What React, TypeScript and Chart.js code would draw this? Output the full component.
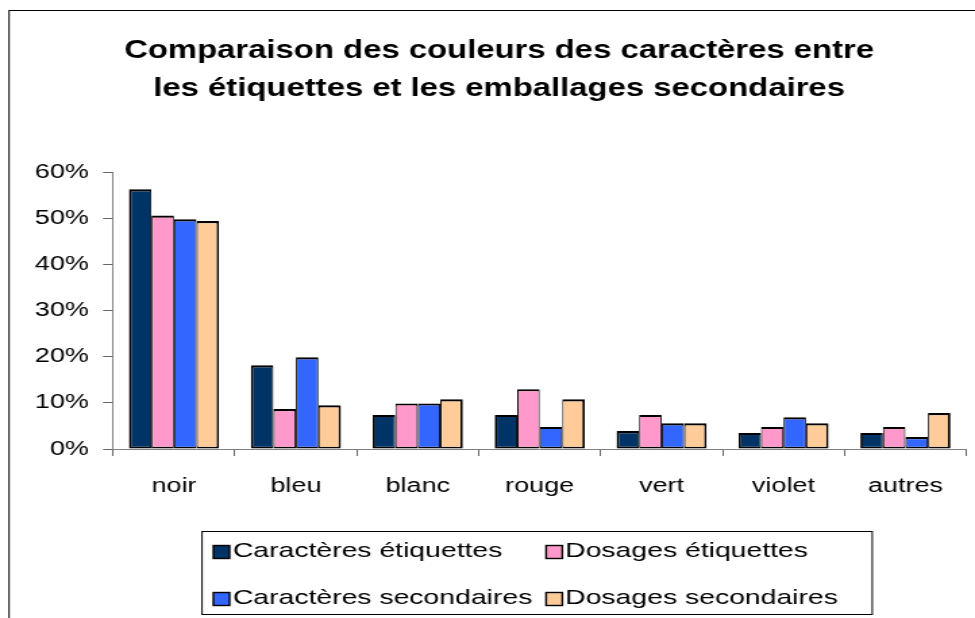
import React, { useEffect, useRef } from "react";
import { Chart, registerables } from "chart.js";

Chart.register(...registerables);

const categories = ["noir", "bleu", "blanc", "rouge", "vert", "violet", "autres"];
const seriesLabels = [
  "Caractères étiquettes",
  "Dosages étiquettes",
  "Caractères secondaires",
  "Dosages secondaires",
];
const caracteresEtiquettes = [56.4, 18.2, 7.4, 7.4, 3.9, 3.5, 3.5];
const dosagesEtiquettes = [50.7, 8.7, 9.9, 13.0, 7.4, 4.8, 4.8];
const caracteresSecondaires = [49.9, 19.9, 9.9, 4.8, 5.6, 6.9, 2.6];
const dosagesSecondaires = [49.5, 9.5, 10.8, 10.8, 5.6, 5.6, 7.8];
const seriesColors = ["#003366", "#FF99CC", "#3366FF", "#FFCC99"];
const titleLines = [
  "Comparaison des couleurs des caractères entre",
  "les étiquettes et les emballages secondaires",
];
const yTickMax = 60;
const yTickStep = 10;

const FONT = "'Liberation Sans', Arial, Helvetica, sans-serif";
// internal canvas is narrower and stretched horizontally by CSS
const INNER_W = 722;
const INNER_H = 618;

const framePlugin = {
  id: "frameAndLegend",
  afterDraw(chart: any) {
    const ctx = chart.ctx;
    ctx.save();
    // outer frame (right/bottom edges fall outside the picture)
    ctx.strokeStyle = "#000";
    ctx.lineWidth = 1;
    ctx.strokeRect(6.7, 10.5, INNER_W + 20, INNER_H + 20);

    // title (slightly condensed horizontally)
    ctx.save();
    const cx = 369.6;
    const sx = 0.935;
    ctx.translate(cx, 0);
    ctx.scale(sx, 1);
    ctx.font = `bold 26px ${FONT}`;
    ctx.fillStyle = "#000";
    ctx.textAlign = "center";
    ctx.textBaseline = "alphabetic";
    const baselines = [57.5, 96];
    titleLines.forEach((t, i) => ctx.fillText(t, 0, baselines[i]));
    ctx.restore();

    // legend box
    const bx = 149.6, by = 531, bw = 496.3, bh = 83;
    ctx.fillStyle = "#fff";
    ctx.fillRect(bx, by, bw, bh);
    ctx.strokeStyle = "#000";
    ctx.lineWidth = 1;
    ctx.strokeRect(bx, by + 0.5, bw, bh);

    const colMarkerX = [158, 404.4];
    const colTextX = [172.4, 418.5];
    const rowY = [552, 599];
    ctx.font = `21px ${FONT}`;
    ctx.textBaseline = "middle";
    ctx.textAlign = "left";
    chart.data.datasets.forEach((ds: any, i: number) => {
      const col = i % 2;
      const row = Math.floor(i / 2);
      const mx = colMarkerX[col];
      const my = rowY[row];
      ctx.fillStyle = ds.backgroundColor;
      ctx.fillRect(mx, my - 6.5, 12, 13);
      ctx.strokeStyle = "#000";
      ctx.lineWidth = 1.4;
      ctx.strokeRect(mx, my - 6.5, 12, 13);
      ctx.fillStyle = "#000";
      ctx.fillText(ds.label, colTextX[col], my - 1);
    });
    ctx.restore();
  },
};

export default function App() {
  const ref = useRef<HTMLCanvasElement | null>(null);

  useEffect(() => {
    if (!ref.current) return;
    const seriesData = [
      caracteresEtiquettes,
      dosagesEtiquettes,
      caracteresSecondaires,
      dosagesSecondaires,
    ];
    const n = seriesData.length;
    const chart = new Chart(ref.current, {
      type: "bar",
      data: {
        labels: categories,
        datasets: seriesData.map((d, i) => ({
          label: seriesLabels[i],
          data: d,
          backgroundColor: seriesColors[i],
          borderColor: "#000",
          borderWidth: {
            top: 2.2,
            bottom: 1.8,
            left: i === 0 ? 1.8 : 1.0,
            right: i === n - 1 ? 1.8 : 1.0,
          },
          borderSkipped: false,
          categoryPercentage: 0.739,
          barPercentage: 1.0,
        })),
      },
      options: {
        responsive: false,
        devicePixelRatio: 1,
        animation: false,
        layout: { padding: { top: 172.7, left: 23.6, right: 6.4, bottom: 102 } },
        plugins: {
          legend: { display: false },
          tooltip: { enabled: false },
          title: { display: false },
        },
        scales: {
          x: {
            grid: {
              offset: true,
              drawOnChartArea: false,
              drawTicks: true,
              tickLength: 7,
              color: "#666",
              lineWidth: 1,
            },
            border: { display: true, color: "#808080", width: 1 },
            ticks: { color: "#000", font: { family: FONT, size: 20 }, padding: 18 },
            afterFit: (s: any) => {
              s.height = 67;
            },
          },
          y: {
            min: 0,
            max: yTickMax,
            grid: {
              drawOnChartArea: false,
              drawTicks: true,
              tickLength: 7.4,
              color: "#666",
              lineWidth: 1,
            },
            border: { display: true, color: "#808080", width: 1 },
            ticks: {
              stepSize: yTickStep,
              color: "#000",
              font: { family: FONT, size: 20 },
              padding: 10.4,
              callback: (v: any) => `${v}%`,
            },
            afterFit: (s: any) => {
              s.width = 60.1;
            },
          },
        },
      },
      plugins: [framePlugin],
    });
    return () => chart.destroy();
  }, []);

  return (
    <div style={{ position: "fixed", left: 0, top: 0, width: 975, height: 618, background: "#fff" }}>
      <canvas
        ref={ref}
        width={INNER_W}
        height={INNER_H}
        style={{ width: "975px", height: "618px", display: "block" }}
      />
    </div>
  );
}
